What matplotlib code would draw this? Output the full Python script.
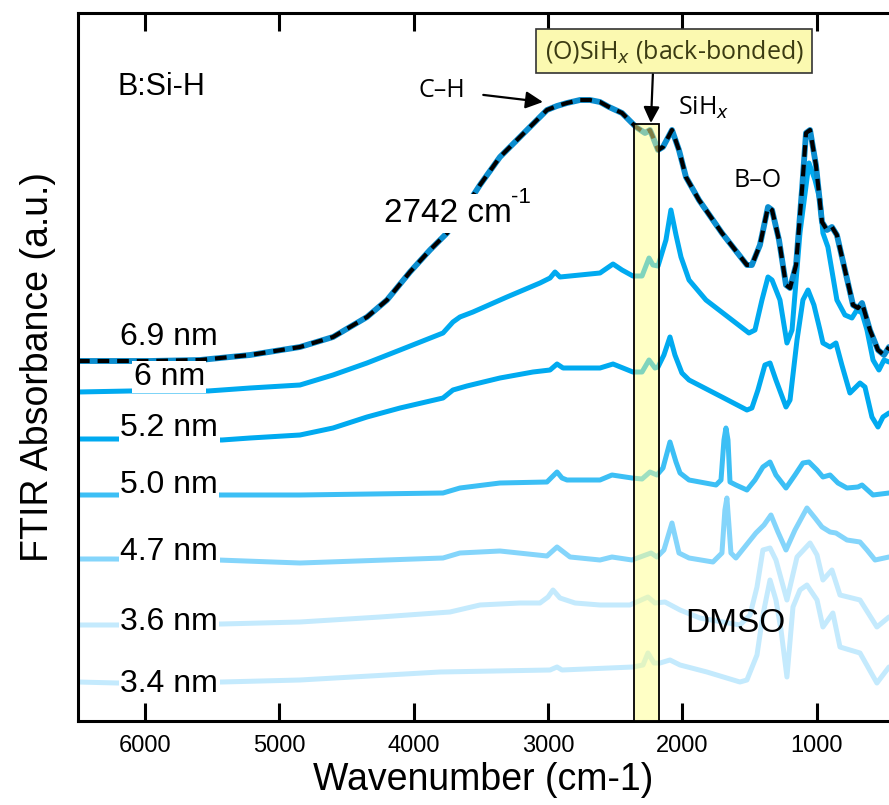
import matplotlib
matplotlib.use("Agg")
import matplotlib.pyplot as plt
from matplotlib.patches import Rectangle

# ---------------- data (wavenumber cm-1, absorbance a.u. with offsets) -------------
w69 = [6500, 5964, 5592, 5219, 4847, 4601, 4348, 4199, 4028, 3879, 3752, 3618, 3507, 3358,
       3157, 3008, 2934, 2859, 2762, 2687, 2613, 2546, 2449, 2345, 2278, 2241, 2219, 2181,
       2144, 2077, 2025, 1973, 1876, 1705, 1519, 1482, 1422, 1362, 1332, 1280, 1228, 1198,
       1153, 1109, 1079, 1049, 1005, 960, 923, 886, 849, 789, 729, 692, 662, 603, 543, 498, 461]
a69 = [3.60, 3.60, 3.61, 3.66, 3.74, 3.84, 4.04, 4.21, 4.49, 4.71, 4.88, 5.13, 5.36, 5.64,
       5.91, 6.11, 6.15, 6.18, 6.21, 6.21, 6.19, 6.14, 6.08, 5.94, 5.88, 5.91, 5.84, 5.71,
       5.74, 5.91, 5.71, 5.44, 5.21, 4.88, 4.56, 4.56, 4.76, 5.14, 5.11, 4.81, 4.36, 4.33,
       4.56, 5.31, 5.88, 5.91, 5.56, 4.99, 4.91, 4.94, 4.86, 4.51, 4.16, 4.13, 4.18, 3.91,
       3.71, 3.66, 3.74]

w60 = [6500, 6113, 5532, 5219, 4847, 4601, 4348, 4102, 3782, 3708, 3656, 3559, 3306, 3060,
       2985, 2948, 2911, 2613, 2516, 2449, 2368, 2300, 2248, 2219, 2181, 2122, 2085, 2047,
       2010, 1950, 1824, 1504, 1459, 1407, 1362, 1332, 1273, 1221, 1183, 1124, 1057, 1012,
       975, 953, 916, 849, 789, 737, 700, 662, 625, 580, 536, 498, 461]
a60 = [3.29, 3.30, 3.30, 3.33, 3.36, 3.46, 3.58, 3.71, 3.88, 3.99, 4.04, 4.09, 4.24, 4.38,
       4.43, 4.49, 4.44, 4.48, 4.57, 4.51, 4.45, 4.45, 4.63, 4.56, 4.55, 4.81, 5.11, 4.86,
       4.64, 4.41, 4.21, 3.88, 3.91, 4.21, 4.44, 4.41, 4.21, 3.78, 3.91, 4.88, 5.58, 5.41,
       5.21, 4.88, 4.74, 4.21, 4.06, 4.03, 4.11, 4.08, 3.91, 3.61, 3.51, 3.61, 3.59]

w52 = [6500, 6224, 5428, 5219, 4847, 4601, 4348, 4102, 3782, 3708, 3604, 3358, 3112, 2985,
       2933, 2888, 2613, 2516, 2368, 2300, 2248, 2204, 2181, 2137, 2092, 2055, 2003, 1950,
       1705, 1519, 1482, 1437, 1385, 1347, 1303, 1228, 1198, 1146, 1102, 1064, 1020, 975,
       953, 900, 856, 812, 752, 677, 640, 588, 543, 506, 461]
a52 = [2.82, 2.82, 2.81, 2.83, 2.86, 2.93, 3.04, 3.13, 3.23, 3.31, 3.35, 3.43, 3.49, 3.51,
       3.57, 3.53, 3.53, 3.57, 3.49, 3.49, 3.61, 3.53, 3.54, 3.66, 3.84, 3.66, 3.48, 3.41,
       3.24, 3.11, 3.13, 3.31, 3.56, 3.58, 3.41, 3.14, 3.21, 3.81, 4.21, 4.31, 4.16, 3.91,
       3.78, 3.74, 3.78, 3.56, 3.28, 3.38, 3.34, 3.04, 2.94, 3.04, 3.08]

w50 = [6500, 6224, 5443, 4847, 3782, 3656, 3358, 3008, 2963, 2933, 2896, 2859, 2613, 2524,
       2375, 2300, 2241, 2189, 2144, 2092, 2047, 2017, 1950, 1749, 1712, 1690, 1675, 1660,
       1645, 1601, 1519, 1459, 1400, 1347, 1303, 1228, 1161, 1102, 1057, 997, 953, 900, 841,
       774, 692, 662, 580, 461]
a50 = [2.26, 2.26, 2.26, 2.26, 2.28, 2.33, 2.38, 2.39, 2.45, 2.49, 2.43, 2.41, 2.41, 2.46,
       2.43, 2.42, 2.49, 2.46, 2.53, 2.79, 2.59, 2.48, 2.41, 2.36, 2.41, 2.81, 2.93, 2.81,
       2.39, 2.36, 2.31, 2.41, 2.54, 2.59, 2.46, 2.33, 2.46, 2.58, 2.59, 2.51, 2.44, 2.46, 2.38,
       2.33, 2.34, 2.36, 2.26, 2.28]

w47 = [6500, 6247, 5458, 4847, 3782, 3656, 3358, 3008, 2933, 2836, 2613, 2524, 2375, 2233,
       2189, 2137, 2077, 2025, 1950, 1772, 1705, 1683, 1668, 1653, 1638, 1601, 1452, 1392,
       1340, 1288, 1228, 1161, 1072, 1012, 960, 900, 856, 774, 677, 625, 565, 461]
a47 = [1.62, 1.62, 1.61, 1.58, 1.63, 1.68, 1.70, 1.65, 1.74, 1.64, 1.61, 1.64, 1.61, 1.68,
       1.64, 1.71, 1.98, 1.68, 1.63, 1.59, 1.68, 2.11, 2.23, 1.96, 1.68, 1.63, 1.88, 1.96,
       2.06, 1.89, 1.71, 1.91, 2.13, 2.03, 1.94, 1.89, 1.88, 1.81, 1.79, 1.71, 1.61, 1.64]

w36 = [6500, 6210, 5428, 4847, 4251, 3730, 3507, 3209, 3060, 3000, 2963, 2911, 2799, 2613,
       2390, 2256, 2204, 2129, 2017, 1869, 1571, 1496, 1444, 1400, 1347, 1303, 1221, 1146,
       1049, 997, 953, 886, 826, 677, 551, 461]
a36 = [0.96, 0.96, 0.97, 0.99, 1.04, 1.09, 1.16, 1.18, 1.18, 1.24, 1.31, 1.23, 1.18, 1.16,
       1.16, 1.24, 1.18, 1.19, 1.11, 1.03, 0.96, 1.06, 1.34, 1.71, 1.73, 1.61, 1.21, 1.64,
       1.78, 1.66, 1.41, 1.51, 1.26, 1.21, 0.94, 1.04]

w34 = [6500, 6210, 5428, 4847, 3805, 2985, 2933, 2896, 2368, 2293, 2256, 2211, 2166, 2092,
       2017, 1817, 1571, 1519, 1444, 1400, 1347, 1303, 1265, 1221, 1176, 1124, 1072, 997,
       953, 916, 879, 826, 677, 551, 461]
a34 = [0.39, 0.38, 0.39, 0.41, 0.49, 0.51, 0.54, 0.51, 0.54, 0.56, 0.68, 0.58, 0.58, 0.61,
       0.56, 0.49, 0.39, 0.41, 0.66, 1.06, 1.41, 1.21, 0.91, 0.44, 1.14, 1.31, 1.36, 1.21,
       0.94, 1.01, 1.08, 0.74, 0.68, 0.38, 0.54]

labels = ["6.9 nm", "6 nm", "5.2 nm", "5.0 nm", "4.7 nm", "3.6 nm", "3.4 nm"]
label_y = [3.84, 3.44, 2.93, 2.36, 1.69, 0.99, 0.37]
xticks = [6000, 5000, 4000, 3000, 2000, 1000]
band = (2357, 2171)

# ---------------- figure -------------------------------------------------------
plt.rcParams['font.family'] = ['Liberation Sans', 'DejaVu Sans']
fig = plt.figure(figsize=(8.89, 8.05), dpi=100)
ax = fig.add_axes([78/889, 1 - 721/805, 1 - 78/889, (721 - 13)/805])

series = [(w69, a69, '#0b8dcf'), (w60, a60, '#00aaf0'), (w52, a52, '#00aaf0'),
          (w50, a50, '#3cbff5'), (w47, a47, '#84d5fb'), (w36, a36, '#c4eafd'),
          (w34, a34, '#c4eafd')]
for i, (w, a, c) in enumerate(series[::-1]):
    lw = 4.2 if i == len(series) - 1 else 3.6
    ax.plot(w, a, color=c, lw=lw, solid_joinstyle='round', solid_capstyle='round', zorder=2)
ax.plot(w69, a69, color='black', lw=3.0, dashes=(2.8, 1.9), zorder=3)

# highlighted band
ax.add_patch(Rectangle((band[1], 0), band[0] - band[1], 5.97, facecolor=(1, 1, 0.55),
                       alpha=0.5, edgecolor='none', zorder=4))
ax.add_patch(Rectangle((band[1], 0), band[0] - band[1], 5.97, facecolor='none',
                       edgecolor='black', lw=1.3, zorder=4))

ax.set_xlim(6500, 461)
ax.set_ylim(0, 7.08)
ax.set_xticks(xticks)
ax.set_yticks([])
ax.tick_params(axis='x', direction='in', length=13, width=2.2, top=True, labelsize=17, pad=10)
for s in ['left', 'bottom', 'top']:
    ax.spines[s].set_linewidth(2.2)
ax.spines['right'].set_visible(False)
ax.set_xlabel('Wavenumber (cm-1)', fontsize=27, labelpad=4)
ax.set_ylabel('FTIR Absorbance (a.u.)', fontsize=27, labelpad=16)

# thickness labels
for t, y in zip(labels, label_y):
    ax.text(5820, y, t, fontsize=23, ha='center', va='center', zorder=6,
            bbox=dict(facecolor='white', edgecolor='none', pad=1.0))

ax.text(5882, 6.34, 'B:Si-H', fontsize=22, ha='center', va='center', zorder=6)
ax.text(3745, 5.08, '2742 cm', fontsize=24, ha='center', va='center', zorder=6,
        bbox=dict(facecolor='white', edgecolor='none', pad=3))
ax.text(3205, 5.24, '-1', fontsize=16, ha='center', va='center', zorder=6)
ax.text(1608, 0.98, 'DMSO', fontsize=24, ha='center', va='center', zorder=6)

of = ['Open Sans', 'DejaVu Sans']
ax.annotate('C–H', xy=(3038, 6.19), xytext=(3790, 6.31), fontsize=18, family=of,
            ha='center', va='center', zorder=6,
            arrowprops=dict(arrowstyle='-|>', color='black', lw=1.6, mutation_scale=26,
                            shrinkA=11, shrinkB=0))
ax.text(1839, 6.13, 'SiH$_x$', fontsize=18, family=of, ha='center', va='center', zorder=6)
ax.text(1437, 5.41, 'B–O', fontsize=18, family=of, ha='center', va='center', zorder=6)
ax.annotate('(O)SiH$_x$ (back-bonded)', xy=(2234, 5.98), xytext=(2062, 6.70), fontsize=18,
            family=of, color='#3b3b12', ha='center', va='center', zorder=7,
            bbox=dict(boxstyle='square,pad=0.35', facecolor='#fbf9b0', edgecolor='#333333', lw=1.2),
            arrowprops=dict(arrowstyle='-|>', color='black', lw=1.6, mutation_scale=24,
                            relpos=(0.42, 0.0), shrinkA=0, shrinkB=0))

fig.savefig('out.png', dpi=100)
